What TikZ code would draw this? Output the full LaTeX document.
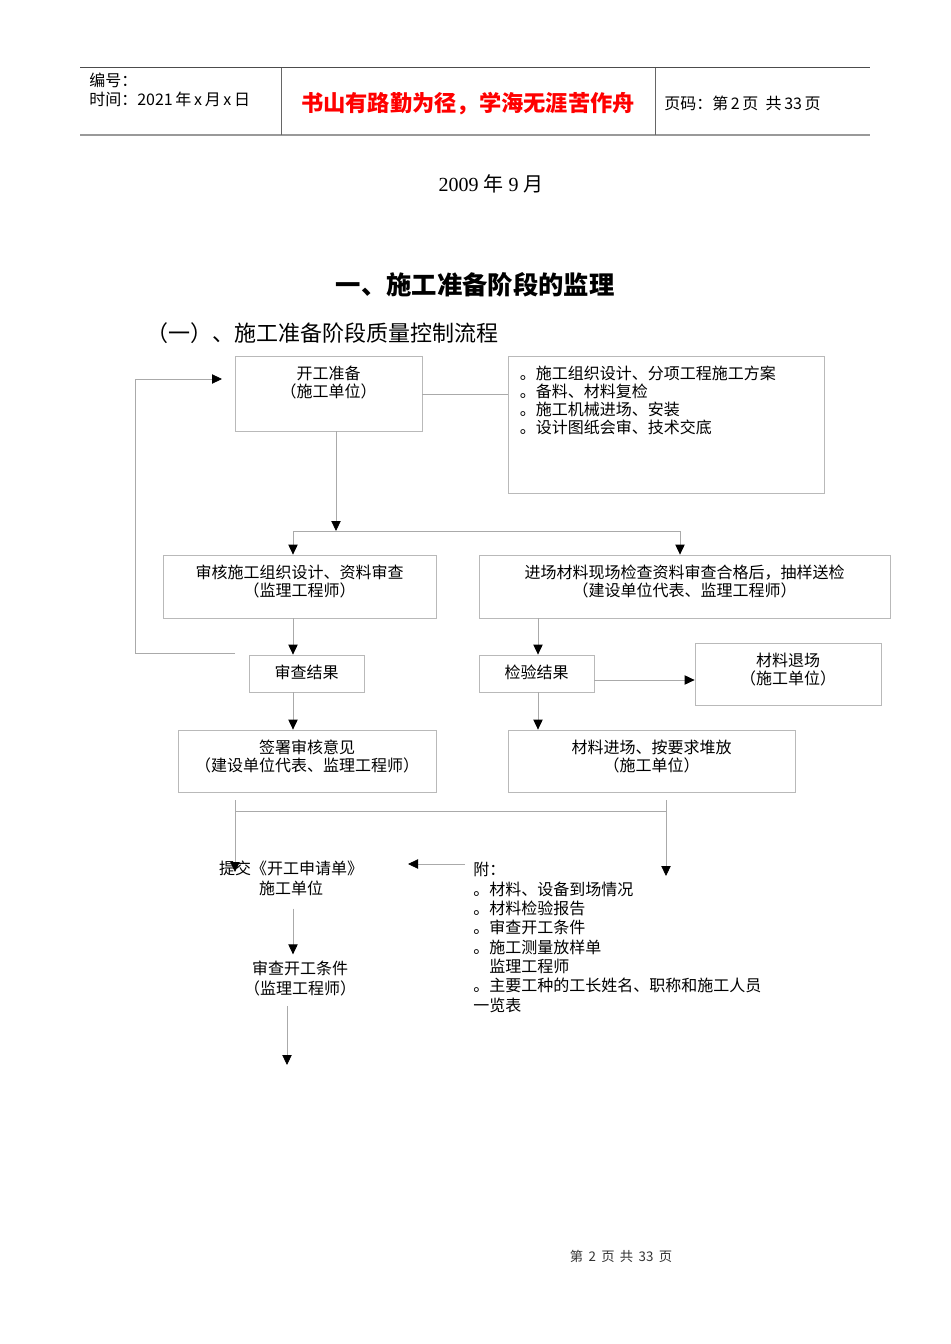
\documentclass[tikz,border=0pt]{standalone}
\usepackage{fontspec}
\setmainfont{Liberation Serif}
\newfontfamily\cjk{Noto Sans CJK SC}
\usetikzlibrary{arrows.meta,fit,positioning}
\definecolor{boxgray}{RGB}{185,185,185}
\definecolor{linegray}{RGB}{170,170,170}
\tikzset{
  box/.style={
    draw=boxgray,
    line width=0.6pt,
    inner sep=0pt
  },
  boxtxt/.style={
    anchor=north,
    align=center,
    inner sep=0pt,
    yshift=-7.5pt,
    font=\fontsize{12}{13.5}\selectfont\cjk
  },
  listtxt/.style={
    anchor=north west,
    align=left,
    inner sep=0pt,
    font=\fontsize{12}{13.5}\selectfont\cjk
  },
  plain/.style={
    align=center,
    inner sep=0pt,
    font=\fontsize{12}{14.5}\selectfont\cjk
  },
  hdr/.style={
    anchor=west,
    inner sep=0pt,
    font=\fontsize{12}{13}\selectfont\cjk
  },
  ln/.style={
    draw=linegray,
    line width=0.6pt
  },
  arr/.style={
    ln,
    -{Triangle[width=7pt,length=7.5pt,color=black,fill=black]}
  }
}

\begin{document}
\begin{tikzpicture}[x=0.75pt,y=-0.75pt]
\useasboundingbox (0,0) rectangle (950,1344);

% header table
\draw[draw=black!70, line width=0.75pt] (80,68) -- (870,68);
\draw[draw=black!40, line width=1.5pt] (80,135) -- (870,135);
\draw[draw=black!60, line width=0.75pt] (281,68) -- (281,135) (655,68) -- (655,135);
\node[hdr] (hno) at (89,80) {编号：};
\node[hdr] (htime) at (89,99) {时间：2021\,年\,x\,月\,x\,日};
\node[font=\fontsize{16.7}{19}\selectfont\cjk\bfseries, text=red, inner sep=0pt] (hmotto) at (468,104) {书山有路勤为径，学海无涯苦作舟};
\node[hdr] (hpage) at (664,103) {页码：第\,2\,页\ \ 共\,33\,页};

% titles
\node[font=\fontsize{15}{18}\selectfont] (date) at (491,184) {2009 {\cjk 年} 9 {\cjk 月}};
\node[font=\fontsize{19}{22}\selectfont\cjk\bfseries] (title) at (475,285) {一、施工准备阶段的监理};
\node[anchor=west, inner sep=0pt, font=\fontsize{16.5}{20}\selectfont\cjk] (subtitle) at (146,333) {（一）、施工准备阶段质量控制流程};

% boxes
\node[box, fit={(235,356) (422,431)}] (prep) {};
\node[boxtxt] (prepT) at (prep.north) {开工准备\\（施工单位）};
\node[box, fit={(508,356) (824,493)}] (items) {};
\node[listtxt] (itemsT) at ([xshift=9pt,yshift=-7.5pt]items.north west) {。施工组织设计、分项工程施工方案\\。备料、材料复检\\。施工机械进场、安装\\。设计图纸会审、技术交底};

\node[box, fit={(163,555) (436,618)}] (audit) {};
\node[boxtxt] (auditT) at (audit.north) {审核施工组织设计、资料审查\\（监理工程师）};
\node[box, fit={(479,555) (890,618)}] (check) {};
\node[boxtxt] (checkT) at (check.north) {进场材料现场检查资料审查合格后，抽样送检\\（建设单位代表、监理工程师）};

\node[box, fit={(249,655) (364,692)}] (result) {};
\node[boxtxt] (resultT) at (result.north) {审查结果};
\node[box, fit={(479,655) (594,692)}] (test) {};
\node[boxtxt] (testT) at (test.north) {检验结果};
\node[box, fit={(695,643) (881,705)}] (reject) {};
\node[boxtxt] (rejectT) at (reject.north) {材料退场\\（施工单位）};

\node[box, fit={(178,730) (436,792)}] (sign) {};
\node[boxtxt] (signT) at (sign.north) {签署审核意见\\（建设单位代表、监理工程师）};
\node[box, fit={(508,730) (795,792)}] (store) {};
\node[boxtxt] (storeT) at (store.north) {材料进场、按要求堆放\\（施工单位）};

% free text
\node[plain] (submit) at (291,878.5) {提交《开工申请单》\\施工单位};
\node[listtxt, font=\fontsize{12}{14.5}\selectfont\cjk] (note) at (473,862) {附：\\。材料、设备到场情况\\。材料检验报告\\。审查开工条件\\。施工测量放样单\\　监理工程师\\。主要工种的工长姓名、职称和施工人员\\一览表};
\node[plain] (cond) at (300,978.5) {审查开工条件\\（监理工程师）};

% connectors
\coordinate (s0) at (336,531);
\coordinate (sL) at (293,531);
\coordinate (sR) at (680,531);
\coordinate (xb) at (538,0);
\coordinate (yt) at (0,680);
\draw[ln] (prep.east |- 0,394) -- (items.west |- 0,394);
\draw[arr] (s0 |- prep.south) -- (s0);
\draw[ln] (sL) -- (sR);
\draw[arr] (sL) -- (sL |- audit.north);
\draw[arr] (sR) -- (sR |- check.north);
\draw[arr] (sL |- audit.south) -- (sL |- result.north);
\draw[arr] (xb |- check.south) -- (xb |- test.north);
\draw[arr] (test.east |- yt) -- (reject.west |- yt);
\draw[arr] (sL |- result.south) -- (sL |- sign.north);
\draw[arr] (xb |- test.south) -- (xb |- store.north);

% back to start
\coordinate (fb) at (235,653);
\coordinate (fbc) at (135,379);
\coordinate (fbt) at (222,379);
\draw[arr] (fb) -| (fbc) -- (fbt);

% join below
\coordinate (bL) at (235,800);
\coordinate (bR) at (666,800);
\coordinate (jL) at (235,811);
\coordinate (jR) at (666,811);
\coordinate (tL) at (235,872);
\coordinate (tR) at (666,876);
\draw[ln] (jL) -- (jR);
\draw[arr] (bL) -- (tL);
\draw[arr] (bR) -- (tR);

\coordinate (nA) at (465,864);
\coordinate (nB) at (408,864);
\draw[arr] (nA) -- (nB);
\coordinate (xc) at (293,0);
\draw[arr, shorten <=9.5pt, shorten >=5pt] (xc |- submit.south) -- (xc |- cond.north);
\coordinate (fin) at (287,1065);
\draw[arr, shorten <=7.5pt] (fin |- cond.south) -- (fin);

% footer
\node[font=\fontsize{10}{12}\selectfont\cjk, text=black!80] (foot) at (621,1256) {第\hspace{4pt}2\hspace{4pt}页\hspace{4pt}共\hspace{4pt}33\hspace{4pt}页};
\end{tikzpicture}
\end{document}
